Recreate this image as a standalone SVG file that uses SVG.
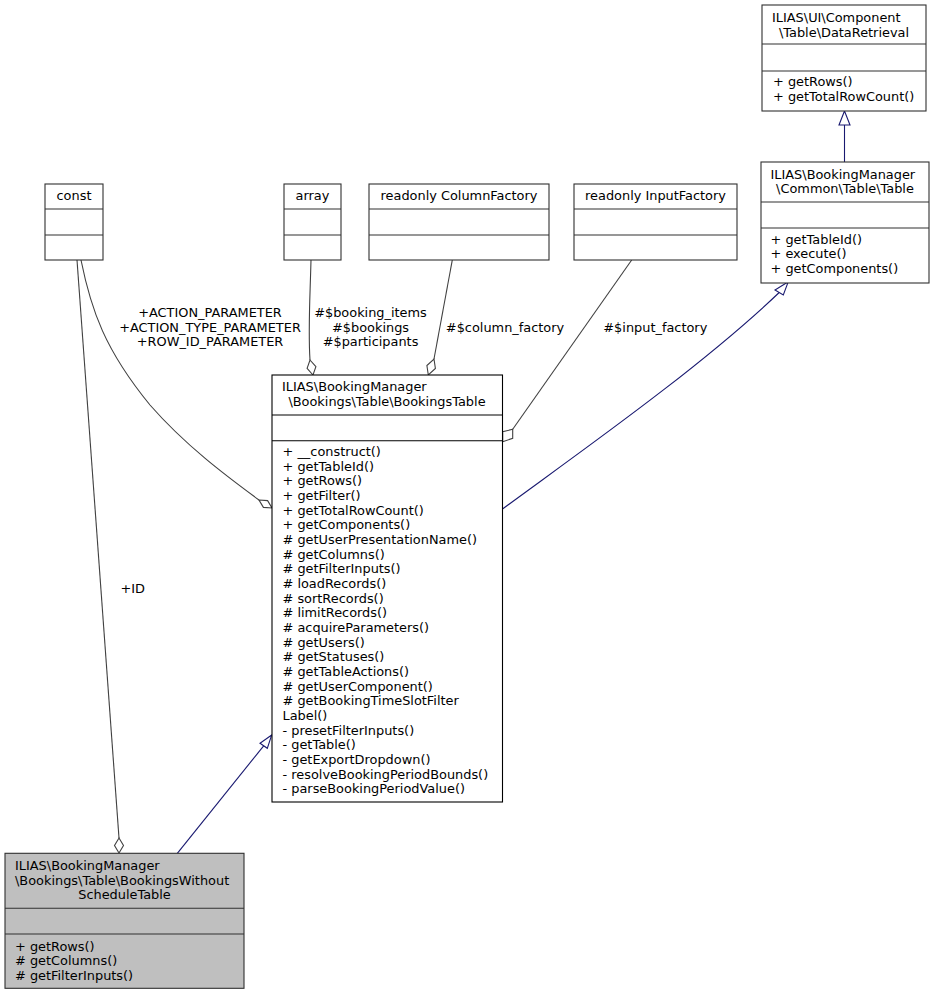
<svg xmlns="http://www.w3.org/2000/svg" width="934" height="995" viewBox="0 0 934 995">
<style>
text{font-family:"DejaVu Sans","Liberation Sans",sans-serif;font-size:12.9px;fill:#000}
.m{text-anchor:middle}
.box{fill:#fff;stroke:#303030;stroke-width:1.1}
.main{fill:#fff;stroke:#000;stroke-width:1.1}
.cur{fill:#bfbfbf;stroke:#303030;stroke-width:1.1}
.sep{stroke:#303030;stroke-width:1.1}
.sepm{stroke:#000;stroke-width:1.1}
.agg{fill:none;stroke:#404040;stroke-width:1.1}
.aggh{fill:#fff;stroke:#404040;stroke-width:1.1}
.inh{fill:none;stroke:#191970;stroke-width:1.1}
.inhh{fill:#fff;stroke:#191970;stroke-width:1.1}
</style>
<rect width="934" height="995" fill="#fff"/>
<g id="connectors">
<path class="inh" d="M844.5,162 L844.5,125"/>
<polygon class="inhh" points="844.5,111 839,125 850,125"/>
<path class="inh" d="M502.5,509 C580,452 700,368 779.2,292.5"/>
<polygon class="inhh" points="788.3,281.7 775,290 783.3,295"/>
<path class="inh" d="M177.3,853.3 L263.7,745.8"/>
<polygon class="inhh" points="271.7,735 260,743.3 267.3,748.3"/>
<path class="agg" d="M81,260 C91,310 105,350 150,405 C185,445 225,475 259,500"/>
<polygon class="aggh" points="259,500 267.6,500.6 272,508 263.4,507.4"/>
<path class="agg" d="M77,260 L119,838"/>
<polygon class="aggh" points="119,838 123.5,845.5 119,853 114.5,845.5"/>
<path class="agg" d="M311,260 C310,300 308,330 310,360"/>
<polygon class="aggh" points="310,360 315.9,366.6 313,375 307.1,368.4"/>
<path class="agg" d="M452.3,260 L434,359"/>
<polygon class="aggh" points="434,359 435.4,368.5 428.3,375 426.9,365.5"/>
<path class="agg" d="M631.7,260 L512.7,429.3"/>
<polygon class="aggh" points="512.7,429.3 502.7,431.7 502.7,441.7 512.7,438.3"/>
<text class="m" x="210" y="316.8">+ACTION_PARAMETER</text>
<text class="m" x="210" y="331.5">+ACTION_TYPE_PARAMETER</text>
<text class="m" x="210" y="346.1">+ROW_ID_PARAMETER</text>
<text class="m" x="370.5" y="316.8">#$booking_items</text>
<text class="m" x="370.5" y="331.5">#$bookings</text>
<text class="m" x="370.5" y="346.1">#$participants</text>
<text class="m" x="505" y="331.7">#$column_factory</text>
<text class="m" x="655.3" y="331.7">#$input_factory</text>
<text x="120.5" y="592.8">+ID</text>
</g>
<g id="DataRetrieval">
<rect class="box" x="762" y="5" width="164" height="106"/>
<line class="sep" x1="762" y1="44" x2="926" y2="44"/>
<line class="sep" x1="762" y1="71" x2="926" y2="71"/>
<text x="772" y="21.5">ILIAS\UI\Component</text>
<text class="m" x="844" y="36.5">\Table\DataRetrieval</text>
<text x="773" y="86">+ getRows()</text>
<text x="773" y="100.7">+ getTotalRowCount()</text>
</g>
<g id="CommonTable">
<rect class="box" x="761" y="162" width="168" height="121"/>
<line class="sep" x1="761" y1="202" x2="929" y2="202"/>
<line class="sep" x1="761" y1="228" x2="929" y2="228"/>
<text x="770.5" y="178.5">ILIAS\BookingManager</text>
<text class="m" x="845" y="193.3">\Common\Table\Table</text>
<text x="770.5" y="243.8">+ getTableId()</text>
<text x="770.5" y="258.4">+ execute()</text>
<text x="770.5" y="273">+ getComponents()</text>
</g>
<g id="const">
<rect class="box" x="45" y="184" width="58" height="76"/>
<line class="sep" x1="45" y1="209" x2="103" y2="209"/>
<line class="sep" x1="45" y1="235" x2="103" y2="235"/>
<text class="m" x="74" y="200">const</text>
</g>
<g id="array">
<rect class="box" x="284" y="184" width="57" height="76"/>
<line class="sep" x1="284" y1="209" x2="341" y2="209"/>
<line class="sep" x1="284" y1="235" x2="341" y2="235"/>
<text class="m" x="312.5" y="200">array</text>
</g>
<g id="ColumnFactory">
<rect class="box" x="369" y="184" width="180" height="76"/>
<line class="sep" x1="369" y1="209" x2="549" y2="209"/>
<line class="sep" x1="369" y1="235" x2="549" y2="235"/>
<text class="m" x="459" y="200">readonly ColumnFactory</text>
</g>
<g id="InputFactory">
<rect class="box" x="574" y="184" width="163" height="76"/>
<line class="sep" x1="574" y1="209" x2="737" y2="209"/>
<line class="sep" x1="574" y1="235" x2="737" y2="235"/>
<text class="m" x="655.5" y="200">readonly InputFactory</text>
</g>
<g id="BookingsTable">
<rect class="main" x="272" y="375" width="230.5" height="427"/>
<line class="sepm" x1="272" y1="415" x2="502.5" y2="415"/>
<line class="sepm" x1="272" y1="440.7" x2="502.5" y2="440.7"/>
<text x="282" y="391">ILIAS\BookingManager</text>
<text class="m" x="387" y="405.7">\Bookings\Table\BookingsTable</text>
<text x="282.5" y="456">+ __construct()</text>
<text x="282.5" y="470.7">+ getTableId()</text>
<text x="282.5" y="485.3">+ getRows()</text>
<text x="282.5" y="500">+ getFilter()</text>
<text x="282.5" y="514.7">+ getTotalRowCount()</text>
<text x="282.5" y="529.4">+ getComponents()</text>
<text x="282.5" y="544"># getUserPresentationName()</text>
<text x="282.5" y="558.7"># getColumns()</text>
<text x="282.5" y="573.4"># getFilterInputs()</text>
<text x="282.5" y="588"># loadRecords()</text>
<text x="282.5" y="602.7"># sortRecords()</text>
<text x="282.5" y="617.4"># limitRecords()</text>
<text x="282.5" y="632"># acquireParameters()</text>
<text x="282.5" y="646.7"># getUsers()</text>
<text x="282.5" y="661.4"># getStatuses()</text>
<text x="282.5" y="676"># getTableActions()</text>
<text x="282.5" y="690.7"># getUserComponent()</text>
<text x="282.5" y="705.4"># getBookingTimeSlotFilter</text>
<text x="282.5" y="720">Label()</text>
<text x="282.5" y="734.7">- presetFilterInputs()</text>
<text x="282.5" y="749.4">- getTable()</text>
<text x="282.5" y="764">- getExportDropdown()</text>
<text x="282.5" y="778.7">- resolveBookingPeriodBounds()</text>
<text x="282.5" y="793.4">- parseBookingPeriodValue()</text>
</g>
<g id="BookingsWithoutScheduleTable">
<rect class="cur" x="5" y="853.3" width="239" height="135"/>
<line class="sep" x1="5" y1="908.3" x2="244" y2="908.3"/>
<line class="sep" x1="5" y1="934" x2="244" y2="934"/>
<text x="15" y="870">ILIAS\BookingManager</text>
<text x="15" y="884.7">\Bookings\Table\BookingsWithout</text>
<text class="m" x="124.5" y="899.3">ScheduleTable</text>
<text x="15" y="950.5">+ getRows()</text>
<text x="15" y="965.2"># getColumns()</text>
<text x="15" y="979.8"># getFilterInputs()</text>
</g>
</svg>
